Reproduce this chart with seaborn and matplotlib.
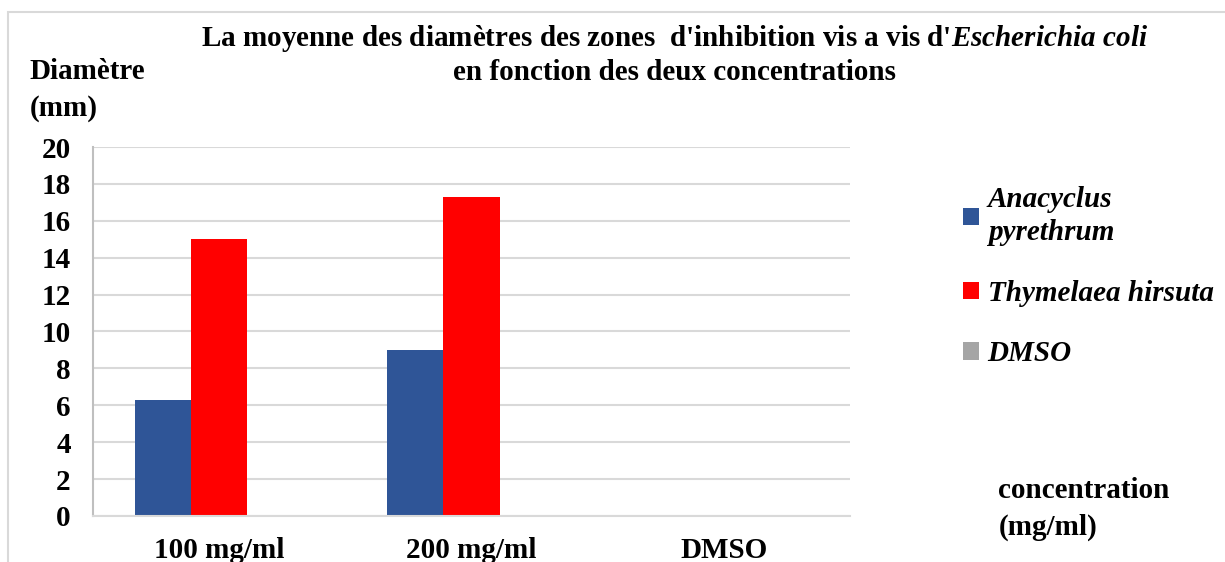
import matplotlib
matplotlib.use("Agg")
from matplotlib import pyplot as plt
from matplotlib.patches import Rectangle
import seaborn as sns
import pandas as pd

concentrations = ["100 mg/ml", "200 mg/ml", "DMSO"]
anacyclus = [6.3, 9.0, 0.0]
thymelaea = [15.0, 17.3, 0.0]
dmso = [0.0, 0.0, 0.0]
series_names = ["Anacyclus\npyrethrum", "Thymelaea hirsuta", "DMSO"]
colors = ["#2F5597", "#FF0000", "#A5A5A5"]
y_ticks = list(range(0, 21, 2))

rows = []
for name, values in zip(series_names, [anacyclus, thymelaea, dmso]):
    for conc, v in zip(concentrations, values):
        rows.append({"concentration": conc, "diametre": v, "extrait": name})
df = pd.DataFrame(rows)

sns.set_style("white")
plt.rcParams["font.family"] = ["Liberation Serif", "DejaVu Serif"]
plt.rcParams["font.weight"] = "bold"
plt.rcParams["text.color"] = "black"
plt.rcParams["xtick.color"] = "black"
plt.rcParams["ytick.color"] = "black"
plt.rcParams["mathtext.fontset"] = "custom"
plt.rcParams["mathtext.it"] = "Liberation Serif:italic:bold"
plt.rcParams["mathtext.rm"] = "Liberation Serif:bold"

fs = 21

fig = plt.figure(figsize=(12.25, 5.62), dpi=100)
ax = fig.add_axes([0.0759, 0.0819, 0.618, 0.6565])

sns.barplot(data=df, x="concentration", y="diametre", hue="extrait",
            palette=colors, width=0.667, saturation=1, linewidth=0, ax=ax)

ax.set_ylim(0, 20)
ax.set_yticks(y_ticks)
ax.set_xlim(-0.5, 2.5)
ax.grid(axis="y", color="#D9D9D9", linewidth=1.5)
ax.set_axisbelow(True)
for side in ["top", "right"]:
    ax.spines[side].set_visible(False)
ax.spines["left"].set_color("#BFBFBF")
ax.spines["bottom"].set_color("#D9D9D9")
ax.spines["left"].set_linewidth(1.5)
ax.spines["bottom"].set_linewidth(1.5)
ax.tick_params(axis="y", length=0, pad=16, labelsize=fs)
ax.tick_params(axis="x", length=0, pad=15, labelsize=fs)
for lbl in ax.get_xticklabels() + ax.get_yticklabels():
    lbl.set_fontweight("bold")
ax.set_xlabel("")
ax.set_ylabel("")

# legend on the right, outside the axes
ax.get_legend().remove()
handles, labels = ax.get_legend_handles_labels()
leg = fig.legend(handles, labels, loc="upper left", bbox_to_anchor=(0.786, 0.669),
                 frameon=False, borderpad=0, borderaxespad=0,
                 handlelength=0.55, handleheight=0.55,
                 handletextpad=0.3, labelspacing=1.15,
                 prop={"family": "Liberation Serif", "weight": "bold",
                       "style": "italic", "size": fs})
for t in leg.get_texts():
    t.set_linespacing(1.3)

fig.text(0.551, 0.903,
         r"La moyenne des diamètres des zones  d'inhibition vis a vis d'$Escherichia\ coli$"
         "\nen fonction des deux concentrations",
         ha="center", va="center", fontsize=fs, fontweight="bold",
         linespacing=1.25)
fig.text(0.024, 0.84, "Diamètre\n(mm)", ha="left", va="center", fontsize=fs,
         fontweight="bold", linespacing=1.45)
fig.text(0.815, 0.094, "concentration\n(mg/ml)", ha="left", va="center",
         fontsize=fs, fontweight="bold", linespacing=1.45)

fig.patches.append(Rectangle((0.0065, -0.1), 1.2, 1.078, transform=fig.transFigure,
                             fill=False, edgecolor="#D9D9D9", linewidth=1.5))

fig.savefig("out.png", dpi=100)
plt.close(fig)
